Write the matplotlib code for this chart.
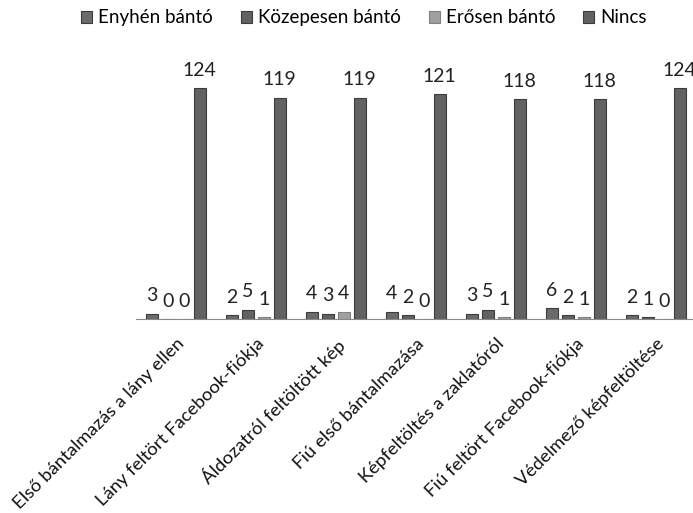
import numpy as np
import matplotlib.pyplot as plt

plt.rcParams['font.family'] = ['Lato', 'DejaVu Sans']

categories = ['Első bántalmazás a lány ellen', 'Lány feltört Facebook-fiókja',
              'Áldozatról feltöltött kép', 'Fiú első bántalmazása',
              'Képfeltöltés a zaklatóról', 'Fiú feltört Facebook-fiókja',
              'Védelmező képfeltöltése']
series = ['Enyhén bántó', 'Közepesen bántó', 'Erősen bántó', 'Nincs']
enyhen = [3, 2, 4, 4, 3, 6, 2]
kozepesen = [0, 5, 3, 2, 5, 2, 1]
erosen = [0, 1, 4, 0, 1, 1, 0]
nincs = [124, 119, 119, 121, 118, 118, 124]

colors = ['#6b6b6b', '#626262', '#a0a0a0', '#626262']
edges = ['#3c3c3c', '#3c3c3c', '#808080', '#3c3c3c']

fig = plt.figure(figsize=(6.93, 5.13), dpi=100)
ax = fig.add_axes([0.196, 0.378, 0.808, 0.508])

x = np.arange(len(categories))
w = 0.2
for i, (name, vals) in enumerate(zip(series, [enyhen, kozepesen, erosen, nincs])):
    pos = x + (i - 1.5) * w
    ax.bar(pos, vals, width=w * 0.75, color=colors[i], edgecolor=edges[i],
           linewidth=0.8, label=name)
    for p, v in zip(pos, vals):
        ax.text(p, v + 5, str(v), ha='center', va='bottom', fontsize=14,
                color='#222222', clip_on=False)

ax.set_xlim(-0.5, len(categories) - 0.5)
ax.set_ylim(0, 140)
ax.set_yticks([])
ax.set_xticks(x)
ax.set_xticklabels(categories, rotation=45, ha='right', rotation_mode='anchor',
                   fontsize=13.3, color='#111111')
ax.tick_params(axis='x', length=0, pad=12)
for s in ['top', 'right', 'left']:
    ax.spines[s].set_visible(False)
ax.spines['bottom'].set_color('#888888')

fig.legend(loc='upper center', bbox_to_anchor=(0.525, 1.015), ncol=4, frameon=False,
           fontsize=13.5, handlelength=0.6, handleheight=0.6, handletextpad=0.3,
           columnspacing=1.5)

fig.savefig('out.png', dpi=100)
